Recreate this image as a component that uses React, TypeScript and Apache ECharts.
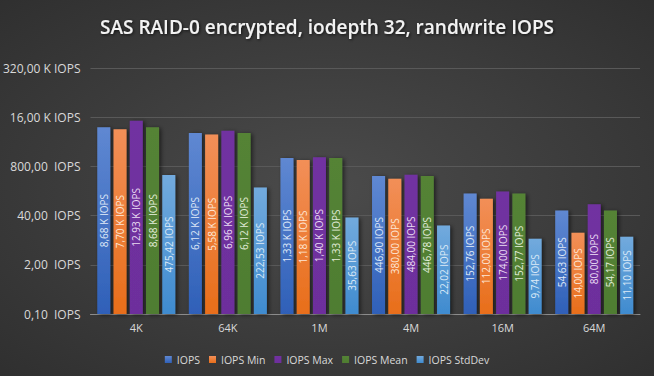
import React, { useEffect, useRef } from "react";
import * as echarts from "echarts";

const categories = ["4K", "64K", "1M", "4M", "16M", "64M"];
const seriesNames = ["IOPS", "IOPS Min", "IOPS Max", "IOPS Mean", "IOPS StdDev"];
const iops = [8680, 6120, 1330, 446.9, 152.76, 54.63];
const iopsMin = [7700, 5580, 1180, 380.0, 112.0, 14.0];
const iopsMax = [12930, 6960, 1400, 484.0, 174.0, 80.0];
const iopsMean = [8680, 6120, 1330, 446.78, 152.77, 54.17];
const iopsStdDev = [475.42, 222.53, 35.63, 22.02, 9.74, 11.1];
const yTicks = [0.1, 2, 40, 800, 16000, 320000];

const fmtComma = (v: number) => v.toFixed(2).replace(".", ",");
const barLabel = (v: number) => (v >= 1000 ? fmtComma(v / 1000) + " K IOPS" : fmtComma(v) + " IOPS");
const axisLabel = (v: number) => (v >= 1000 ? fmtComma(v / 1000) + " K IOPS" : fmtComma(v) + "  IOPS");

const grad = (top: string, bottom: string) =>
  new echarts.graphic.LinearGradient(0, 0, 0, 1, [
    { offset: 0, color: top },
    { offset: 1, color: bottom },
  ]);

const styles = [
  { top: "#5f88d2", bottom: "#2f60b8", label: "#dfe8f7" },
  { top: "#f28f58", bottom: "#e86e1a", label: "#fde6d6" },
  { top: "#7131a1", bottom: "#6d2f9c", label: "#eadcf3" },
  { top: "#548336", bottom: "#4f7d31", label: "#e2eddb" },
  { top: "#72aadd", bottom: "#3f8bcf", label: "#dceaf7" },
];

export default function App() {
  const ref = useRef<HTMLDivElement>(null);
  useEffect(() => {
    if (!ref.current) return;
    const chart = echarts.init(ref.current, undefined, { renderer: "svg" });
    const data = [iops, iopsMin, iopsMax, iopsMean, iopsStdDev];
    chart.setOption({
      animation: false,
      backgroundColor: {
        type: "radial",
        x: 0.5,
        y: 0.5,
        r: 0.95,
        colorStops: [
          { offset: 0, color: "#4b4b4b" },
          { offset: 1, color: "#262626" },
        ],
      },
      title: {
        text: "SAS RAID-0 encrypted, iodepth 32, randwrite IOPS",
        left: "center",
        top: 12,
        textStyle: {
          color: "#f2f2f2",
          fontFamily: "Open Sans",
          fontWeight: 600,
          fontSize: 19,
          textShadowColor: "rgba(0,0,0,0.7)",
          textShadowBlur: 3,
          textShadowOffsetX: 1,
          textShadowOffsetY: 1,
        },
      },
      legend: {
        top: 349,
        left: "center",
        icon: "rect",
        itemWidth: 7,
        itemHeight: 7,
        itemGap: 9,
        textStyle: { color: "#d9d9d9", fontSize: 10.5, fontFamily: "Open Sans" },
        data: seriesNames,
      },
      grid: { left: 87, right: 14, top: 68, bottom: 62 },
      xAxis: {
        type: "category",
        data: categories,
        axisLine: { lineStyle: { color: "#8c8c8c", width: 1 } },
        axisTick: { show: false },
        axisLabel: { color: "#d9d9d9", fontSize: 11, fontFamily: "Open Sans", margin: 8 },
      },
      yAxis: {
        type: "log",
        logBase: 20,
        min: 0.1,
        max: 320000,
        startValue: 0.1,
        axisLine: { show: false },
        axisTick: { show: false, customValues: yTicks },
        splitLine: { show: true, lineStyle: { color: "#595959", width: 1 } },
        axisLabel: {
          customValues: yTicks,
          color: "#d9d9d9",
          fontSize: 12,
          fontFamily: "Open Sans",
          margin: 10,
          formatter: (v: number) => axisLabel(v),
        },
      },
      series: data.map((d, i) => ({
        name: seriesNames[i],
        type: "bar",
        data: d,
        barWidth: 13,
        barGap: "25%",
        itemStyle: {
          color: grad(styles[i].top, styles[i].bottom),
          shadowColor: "rgba(0,0,0,0.55)",
          shadowBlur: 4,
          shadowOffsetX: 2,
          shadowOffsetY: 1,
        },
        label: {
          show: true,
          position: "inside",
          rotate: 90,
          color: styles[i].label,
          fontSize: 10,
          fontFamily: "Open Sans",
          formatter: (p: any) => barLabel(p.value),
        },
      })),
    });
    return () => chart.dispose();
  }, []);
  return <div ref={ref} style={{ width: 654, height: 376, position: "absolute", left: 0, top: 0 }} />;
}
